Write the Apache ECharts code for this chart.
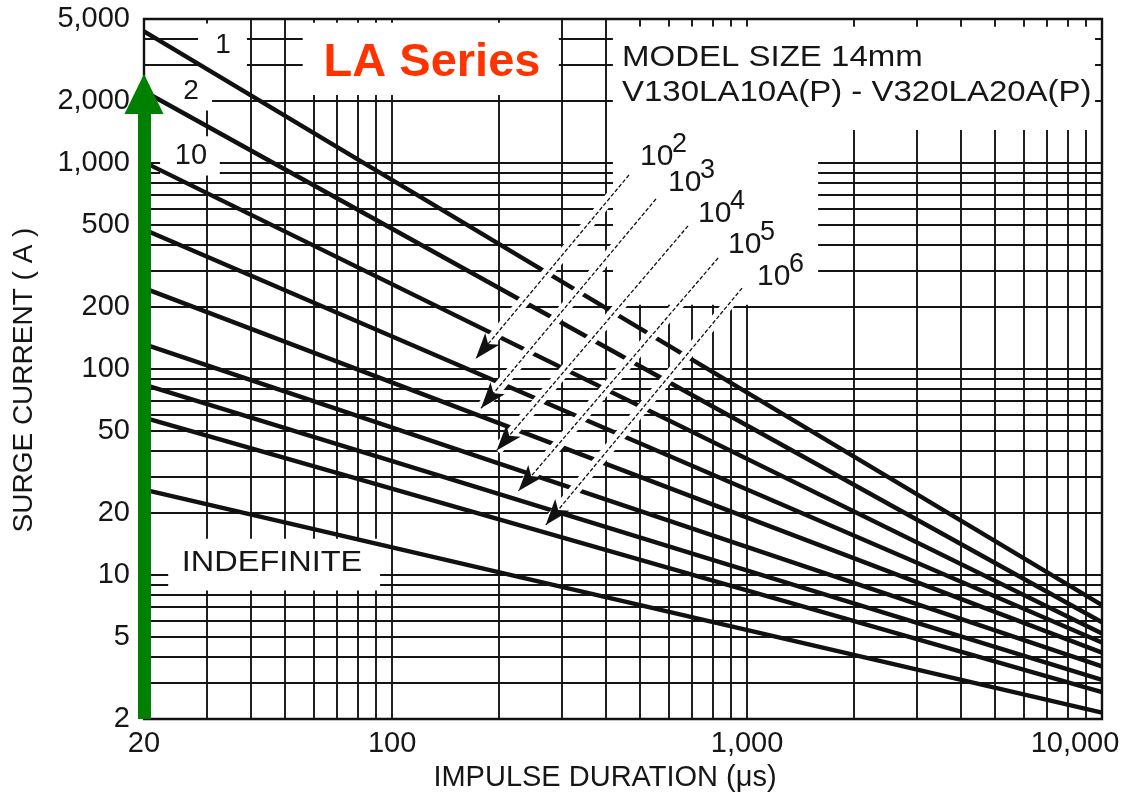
<!DOCTYPE html>
<html>
<head>
<meta charset="utf-8">
<script src="https://cdn.jsdelivr.net/npm/echarts@6/dist/echarts.min.js"></script>
<style>
html,body{margin:0;padding:0;background:#fff;}
#chart{width:1134px;height:801px;}
</style>
</head>
<body>
<div id="chart"></div>
<script>
// ---------------- data ----------------
const durationsUs = [20, 10000];
const curveNames = ['1', '2', '10', '10^2', '10^3', '10^4', '10^5', '10^6', 'INDEFINITE'];
const surgeAt20us = [4350, 2230, 1010, 475, 247, 132, 84, 58, 26];
const surgeAt10000us = [7.15, 5.9, 5.2, 4.7, 4.2, 3.6, 3.1, 2.7, 2.15];

const xTickValues = [20, 100, 1000, 10000];
const yTickValues = [2, 5, 10, 20, 50, 100, 200, 500, 1000, 2000, 5000];
const xGridValues = [30, 40, 50, 60, 70, 80, 90, 100, 200, 300, 400, 500, 600, 700, 800, 900,
                     1000, 2000, 3000, 4000, 5000, 6000, 7000, 8000, 9000];
const yGridValues = [3, 4, 5, 6, 7, 8, 9, 10, 20, 30, 40, 50, 60, 70, 80, 90, 100,
                     200, 300, 400, 500, 600, 700, 800, 900, 1000, 2000, 3000, 4000];

// leader arrows for 10^2 ... 10^6 (data coordinates: [duration, current])
const arrowFrom = [[465, 875], [554, 669], [682, 495], [829, 346], [968, 247]];
const arrowTo = [[172, 112], [178, 64.5], [197, 40.2], [227, 25.6], [271, 17.5]];
// white label areas that blank the grid (data coordinates)
const blankAreas = [
  [[56, 2140], [295, 4800]],     // "LA Series" box
  [[28.4, 2060], [39, 4750]],    // label "1"
  [[20.8, 1800], [31.1, 2800]],  // label "2"
  [[22.2, 870], [32.7, 1350]],   // label "10"
  [[419, 1445], [9560, 4580]],   // model size box
  [[419, 205], [1586, 4580]],    // 10^n labels
  [[23.4, 8.4], [92.5, 15]]      // INDEFINITE
];
const greenArrow = [[20, 2], [20, 2160]];
const exponentLabels = ['2', '3', '4', '5', '6'];

// ---------------- chart ----------------
const FONT = '"Liberation Sans", Arial, Helvetica, sans-serif';
const INK = '#161616';
const chart = echarts.init(document.getElementById('chart'), null, {renderer: 'canvas'});

const fmt = v => Math.round(v).toLocaleString('en-US');

const curveSeries = curveNames.map((n, i) => ({
  name: n,
  type: 'line',
  z: 2,
  symbol: 'none',
  silent: true,
  lineStyle: {color: '#111111', width: 4.4},
  emphasis: {disabled: true},
  data: [[durationsUs[0], surgeAt20us[i]], [durationsUs[1], surgeAt10000us[i]]]
}));

const maskSeries = {
  type: 'line', data: [], silent: true, clip: false,
  markArea: {
    silent: true, z: 1,
    itemStyle: {color: '#ffffff', opacity: 1, borderWidth: 0},
    label: {show: false},
    emphasis: {disabled: true},
    data: blankAreas.map(a => [{coord: a[0]}, {coord: a[1]}])
  }
};

const haloSeries = {
  type: 'line', data: [], silent: true, clip: false,
  markLine: {
    silent: true, z: 3,
    symbol: ['none', 'none'],
    label: {show: false},
    emphasis: {disabled: true},
    lineStyle: {color: '#ffffff', width: 11, type: 'solid', opacity: 1},
    data: arrowFrom.map((p, i) => [{coord: p}, {coord: arrowTo[i]}])
  }
};

const arrowSeries = {
  type: 'line', data: [], silent: true, clip: false,
  markLine: {
    silent: true, z: 4,
    symbol: ['none', 'arrow'],
    symbolSize: [14, 26],
    label: {show: false},
    emphasis: {disabled: true},
    itemStyle: {color: '#111111'},
    lineStyle: {color: '#111111', width: 1.3, type: [4, 2], opacity: 1},
    data: arrowFrom.map((p, i) => [{coord: p}, {coord: arrowTo[i]}])
  }
};

const greenSeries = {
  type: 'line', data: [], silent: true, clip: false,
  markLine: {
    silent: true, z: 5,
    symbol: ['none', 'triangle'],
    symbolSize: [39, 40],
    label: {show: false},
    emphasis: {disabled: true},
    itemStyle: {color: '#008000'},
    lineStyle: {color: '#008000', width: 13, type: 'solid', opacity: 1},
    data: [[{coord: greenArrow[0]}, {coord: greenArrow[1]}]]
  }
};

function txt(text, x, y, size, o) {
  o = o || {};
  return {
    type: 'text', x: x, y: y, z: 10, silent: true,
    scaleX: o.sx || 1,
    style: {
      text: text, fontFamily: FONT, fontSize: size,
      fontWeight: o.w || 'normal', fill: o.c || INK,
      align: o.a || 'center', verticalAlign: 'middle'
    }
  };
}

const expoPos = [[640, 156.5], [668, 183], [698, 214], [728, 245], [757, 276.5]];
const graphics = [
  txt('LA Series', 432, 63, 47, {w: 'bold', c: '#FF3300'}),
  txt('MODEL SIZE 14mm', 622, 57.5, 30, {a: 'left', sx: 1.1}),
  txt('V130LA10A(P) - V320LA20A(P)', 622, 92.5, 30, {a: 'left', sx: 1.1}),
  txt('1', 223, 45, 28),
  txt('2', 191, 91, 28),
  txt('10', 191, 156, 29),
  txt('INDEFINITE', 272, 563, 29, {sx: 1.12})
];
expoPos.forEach((p, i) => {
  graphics.push(txt('10', p[0], p[1], 30, {a: 'left'}));
  graphics.push(txt(exponentLabels[i], p[0] + 32, p[1] - 12, 27, {a: 'left'}));
});

const option = {
  animation: false,
  backgroundColor: '#ffffff',
  grid: {
    left: 144, top: 19, width: 958, height: 700,
    show: true, borderColor: '#111111', borderWidth: 2.4, backgroundColor: 'transparent',
    containLabel: false, outerBoundsMode: 'none'
  },
  xAxis: {
    type: 'log', logBase: 10, min: 20, max: 10000,
    name: 'IMPULSE DURATION (\u03bcs)', nameLocation: 'middle', nameGap: 44, nameMoveOverlap: false,
    nameTextStyle: {fontFamily: FONT, fontSize: 29, color: INK, padding: [0, 36, 0, 0]},
    axisLine: {show: false},
    axisTick: {show: false, customValues: xGridValues},
    minorTick: {show: false},
    minorSplitLine: {show: false},
    splitLine: {show: true, lineStyle: {color: '#151515', width: 1.9}},
    axisLabel: {
      customValues: xTickValues, margin: 10, showMinLabel: true, showMaxLabel: true,
      fontFamily: FONT, fontSize: 29, color: INK,
      formatter: v => (Math.round(v) >= 10000 ? '{e|' + fmt(v) + '}' : fmt(v)),
      rich: {e: {fontFamily: FONT, fontSize: 29, color: INK, padding: [0, 54, 0, 0]}}
    }
  },
  yAxis: {
    type: 'log', logBase: 10, min: 2, max: 5000,
    name: 'SURGE CURRENT ( A )', nameLocation: 'middle', nameGap: 106, nameMoveOverlap: false,
    nameTextStyle: {fontFamily: FONT, fontSize: 28, color: INK, padding: [0, 22, 0, 0]},
    axisLine: {show: false},
    axisTick: {show: false, customValues: yGridValues},
    minorTick: {show: false},
    minorSplitLine: {show: false},
    splitLine: {show: true, lineStyle: {color: '#151515', width: 1.9}},
    axisLabel: {
      customValues: yTickValues, margin: 14, showMinLabel: true, showMaxLabel: true,
      fontFamily: FONT, fontSize: 29, color: INK,
      formatter: v => fmt(v)
    }
  },
  series: [maskSeries].concat(curveSeries, [haloSeries, arrowSeries, greenSeries]),
  graphic: {elements: graphics}
};

chart.setOption(option);
</script>
</body>
</html>
